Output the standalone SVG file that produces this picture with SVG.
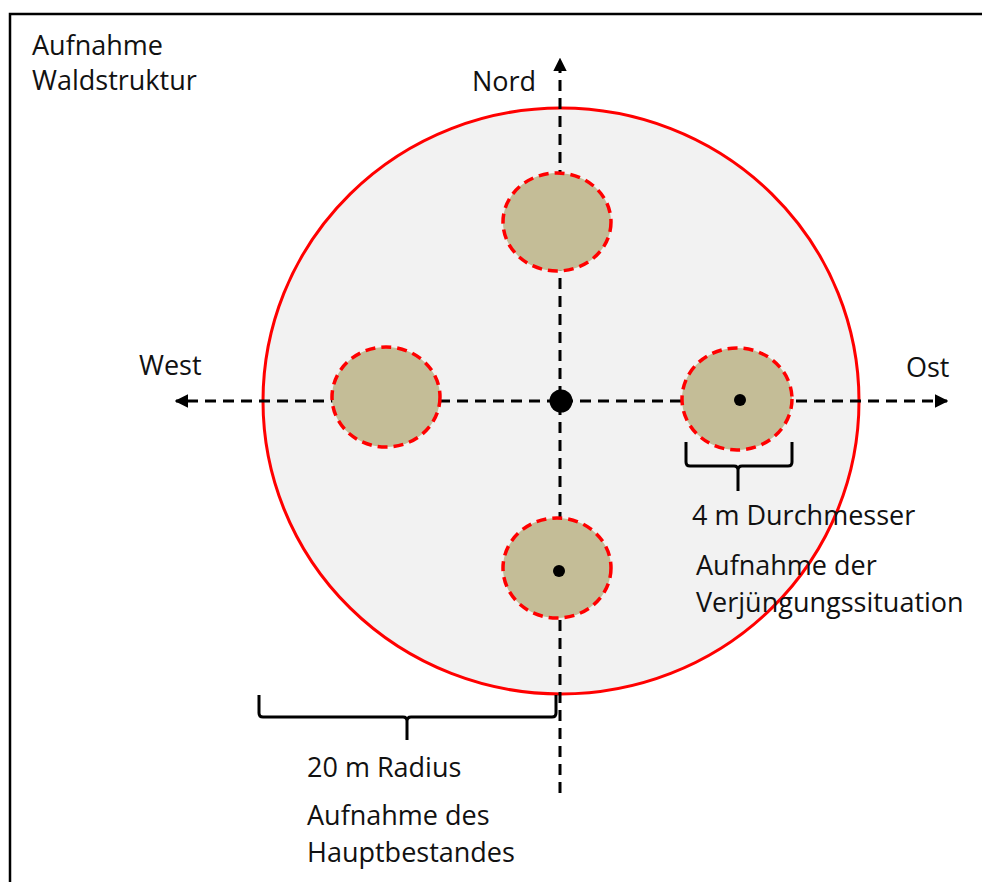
<svg xmlns="http://www.w3.org/2000/svg" width="982" height="882" viewBox="0 0 982 882">
  <style>
    .t { font-family: "Open Sans", "Liberation Sans", sans-serif; font-size: 27px; fill: #111; }
    .plot { fill: #c4bd97; stroke: #ff0000; stroke-width: 3.5; stroke-dasharray: 10 6; }
    .axis { fill: none; stroke: #000; stroke-width: 3; stroke-dasharray: 11 7; }
    .brace { fill: none; stroke: #000; stroke-width: 3; stroke-linejoin: round; }
  </style>
  <defs>
    <marker id="arr" viewBox="0 0 10 10" refX="9" refY="5" markerWidth="4.5" markerHeight="4.5" orient="auto" markerUnits="strokeWidth">
      <path d="M0,0 L10,5 L0,10 z" fill="#000"/>
    </marker>
  </defs>
  <rect width="982" height="882" fill="#fff"/>
  <path d="M10,882 V14 H982" fill="none" stroke="#000" stroke-width="2.5"/>

  <g id="main-plot">
    <ellipse cx="561" cy="401" rx="298" ry="293" fill="#f2f2f2" stroke="#ff0000" stroke-width="3"/>
  </g>

  <g id="connectors">
    <line class="axis" x1="560" y1="793" x2="560" y2="59" marker-end="url(#arr)"/>
    <line class="axis" x1="562" y1="401" x2="947" y2="401" marker-end="url(#arr)"/>
    <line class="axis" x1="558" y1="401" x2="176" y2="401" marker-end="url(#arr)"/>
  </g>

  <g id="plot-north"><ellipse class="plot" cx="557" cy="222" rx="54" ry="49"/></g>
  <g id="plot-west"><ellipse class="plot" cx="386" cy="397" rx="54" ry="50"/></g>
  <g id="plot-east">
    <ellipse class="plot" cx="737" cy="399" rx="55" ry="51"/>
    <circle cx="740" cy="400" r="6" fill="#000"/>
  </g>
  <g id="plot-south">
    <ellipse class="plot" cx="557" cy="568" rx="54" ry="50"/>
    <circle cx="559" cy="571" r="6" fill="#000"/>
  </g>
  <g id="center"><circle cx="561" cy="401" r="11.5" fill="#000"/></g>

  <g id="brace-east">
    <path class="brace" d="M686,442 V462 Q686,466 690,466 H734 Q738,466 738,470 V491 M738,470 Q738,466 742,466 H788 Q792,466 792,462 V442"/>
  </g>
  <g id="brace-radius">
    <path class="brace" d="M259,695 V713 Q259,717 263,717 H403 Q407,717 407,721 V740 M407,721 Q407,717 411,717 H552 Q556,717 556,713 V695"/>
  </g>

  <g id="labels">
    <text class="t" x="32" y="55">Aufnahme</text>
    <text class="t" x="32" y="90">Waldstruktur</text>
    <text class="t" x="472" y="91">Nord</text>
    <text class="t" x="139" y="375">West</text>
    <text class="t" x="906" y="377">Ost</text>
    <text class="t" x="692" y="525">4 m Durchmesser</text>
    <text class="t" x="696" y="575">Aufnahme der</text>
    <text class="t" x="696" y="612">Verjüngungssituation</text>
    <text class="t" x="307" y="777">20 m Radius</text>
    <text class="t" x="307" y="825">Aufnahme des</text>
    <text class="t" x="307" y="862">Hauptbestandes</text>
  </g>
</svg>
